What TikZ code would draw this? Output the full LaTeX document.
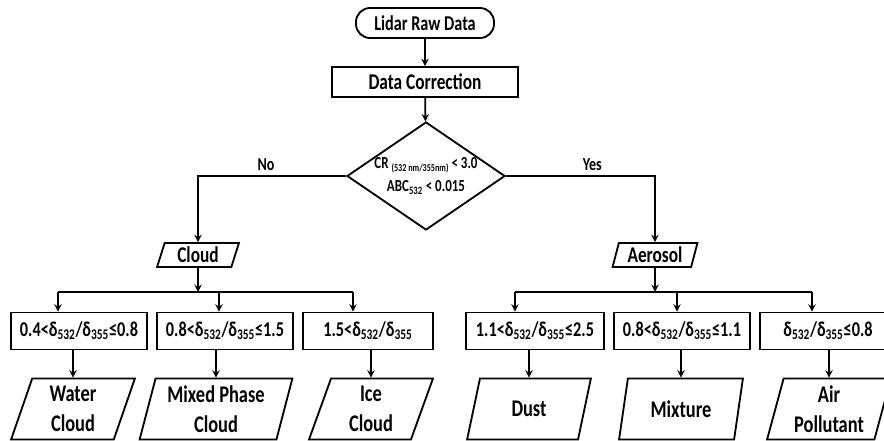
\documentclass[tikz,border=0pt]{standalone}
\usepackage{fontspec}
\setmainfont{Carlito}[FakeStretch=0.77]
\usepackage{tikz}
\usetikzlibrary{shapes,positioning}
\newcommand{\dratio}{δ\textsubscript{532}/δ\textsubscript{355}}
\tikzset{term/.style={rectangle,draw,rounded corners=10pt,minimum width=3.45cm,minimum height=0.75cm},
  proc/.style={rectangle,draw,minimum width=4.65cm,minimum height=0.75cm,font=\bfseries\fontsize{16}{18}\selectfont},
  dec/.style={diamond,draw,aspect=1.46,minimum width=3.95cm,minimum height=2.7cm,inner sep=-8pt,align=center,font=\bfseries\fontsize{12}{16}\selectfont},
  io/.style={trapezium,trapezium left angle=75,trapezium right angle=105,trapezium stretches=true,draw,minimum height=0.6cm,inner sep=1pt,font=\bfseries\fontsize{16}{18}\selectfont},
  rng/.style={rectangle,draw,minimum width=3.4cm,minimum height=0.925cm,inner sep=1pt},
  result/.style={trapezium,trapezium left angle=75,trapezium right angle=105,trapezium stretches=true,draw,minimum width=3.1cm,minimum height=1.525cm,align=center,inner sep=1pt,font=\bfseries\fontsize{17}{21}\selectfont}}

\begin{document}
\begin{tikzpicture}[x=0.025cm,y=-0.025cm,>=stealth,line width=1.3pt,font=\bfseries\fontsize{15}{17}\selectfont]
        \useasboundingbox (0,0) rectangle (884,441);
        \node[term] (raw) at (425,23) {Lidar Raw Data};
        \node[proc] (corr) at (425,82) {Data Correction};
        \node[dec] (cr) at (426,176) {CR {\fontsize{7.5}{8}\selectfont\raisebox{-0.5ex}{(532 nm/355nm)}} < 3.0\\ABC\textsubscript{532} < 0.015};
        \node[io,minimum width=2.05cm] (cloud) at (198,255) {Cloud};
        \node[io,minimum width=2.125cm] (aer) at (655,255) {Aerosol};

        \node[rng] (r1) at (79,331) {0.4<\dratio≤0.8};
        \node[rng] (r2) at (225,331) {0.8<\dratio≤1.5};
        \node[rng,minimum width=3.25cm] (r3) at (368,331) {1.5<\dratio};
        \node[rng,minimum width=3.45cm] (r4) at (535,331) {1.1<\dratio≤2.5};
        \node[rng] (r5) at (682,331) {0.8<\dratio≤1.1};
        \node[rng] (r6) at (828,331) {\dratio≤0.8};

        \node[result] (water) at (73,409) {Water\\Cloud};
        \node[result,minimum width=3.825cm] (mixed) at (216,409) {Mixed Phase\\Cloud};
        \node[result] (ice) at (371,409) {Ice\\Cloud};
        \node[result] (dust) at (529,409) {Dust};
        \node[result] (mix) at (681,409) {Mixture};
        \node[result] (air) at (829,409) {Air\\Pollutant};

        \coordinate (cb) at (198,292);
        \coordinate (ab) at (655,292);
        \coordinate (t1) at (58,292);
        \coordinate (t2) at (219,292);
        \coordinate (t3) at (353,292);
        \coordinate (t4) at (515,292);
        \coordinate (t5) at (677,292);
        \coordinate (t6) at (812,292);

        \draw [->] (raw) -- (corr);
        \draw [->] (corr) -- (cr);
        \draw [->] (cr.west) -| node[above,pos=0.27,font=\bfseries\fontsize{13}{15}\selectfont]{No} (cloud.north);
        \draw [->] (cr.east) -| node[above,pos=0.29,font=\bfseries\fontsize{13}{15}\selectfont]{Yes} (aer.north);

        \draw [->] (cloud) -- (cb);
        \draw (t1) -- (t3);
        \draw [->] (t1) -- (t1 |- r1.north);
        \draw [->] (t2) -- (t2 |- r2.north);
        \draw [->] (t3) -- (t3 |- r3.north);
        \draw [->] (aer) -- (ab);
        \draw (t4) -- (t6);
        \draw [->] (t4) -- (t4 |- r4.north);
        \draw [->] (t5) -- (t5 |- r5.north);
        \draw [->] (t6) -- (t6 |- r6.north);

        \draw [->] (water.north |- r1.south) -- (water.north);
        \draw [->] (mixed.north |- r2.south) -- (mixed.north);
        \draw [->] (ice.north |- r3.south) -- (ice.north);
        \draw [->] (dust.north |- r4.south) -- (dust.north);
        \draw [->] (mix.north |- r5.south) -- (mix.north);
        \draw [->] (air.north |- r6.south) -- (air.north);
    \end{tikzpicture}
\end{document}
